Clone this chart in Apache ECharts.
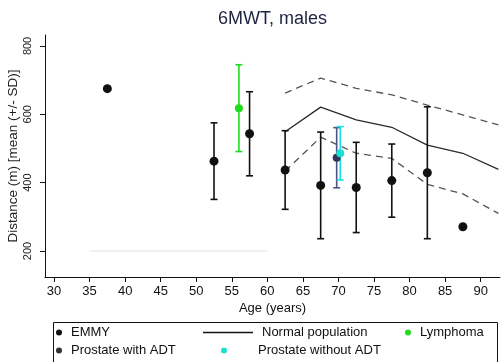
<!DOCTYPE html>
<html>
<head>
<meta charset="utf-8">
<script src="https://cdn.jsdelivr.net/npm/echarts@6/dist/echarts.min.js"></script>
<style>
  html, body { margin: 0; padding: 0; background: #fff; }
  #chart { width: 502px; height: 362px; }
</style>
</head>
<body>
<div id="chart"></div>
<script>
// EMMY cohort: mean 6MWT distance and SD by age group
const emmyAges = [37.5, 52.5, 57.5, 62.5, 67.5, 72.5, 77.5, 82.5, 87.5];
const emmyMean = [675, 463, 543, 437, 392, 386, 406, 429, 271];
const emmySD   = [null, 112, 123, 115, 156, 132, 107, 193, null];

// Other patient groups
const lymphomaAge = [56];
const lymphomaMean = [618];
const lymphomaSD = [127];

const adtAge = [69.75];
const adtMean = [473];
const adtSD = [88];

const noAdtAge = [70.25];
const noAdtMean = [486];
const noAdtSD = [78];

// Normal population reference (mean and +/- SD band)
const normAges  = [62.5, 67.5, 72.5, 77.5, 82.5, 87.5, 92.5];
const normMean  = [549, 621, 584, 562, 510, 486, 439];
const normUpper = [662, 706, 676, 657, 627, 598, 569];
const normLower = [434, 533, 486, 471, 395, 367, 310];

// Faint horizontal guide
const guideAges = [35, 60];
const guideValue = [200, 200];

// Axis ticks
const xTicks = [30, 35, 40, 45, 50, 55, 60, 65, 70, 75, 80, 85, 90];
const yTicks = [200, 400, 600, 800];

const FONT = '"Liberation Sans", Arial, sans-serif';

const pairs = (xs, ys) => xs.map((x, i) => [x, ys[i]]);
const bars = (xs, m, sd) => xs
  .map((x, i) => sd[i] == null ? null : [x, m[i] - sd[i], m[i] + sd[i]])
  .filter(d => d);

function errorBar(color) {
  return function (params, api) {
    const x = api.value(0);
    const lo = api.coord([x, api.value(1)]);
    const hi = api.coord([x, api.value(2)]);
    const hw = 3.5;
    const st = { stroke: color, lineWidth: 1.6 };
    return {
      type: 'group',
      children: [
        { type: 'line', shape: { x1: lo[0], y1: lo[1], x2: hi[0], y2: hi[1] }, style: st },
        { type: 'line', shape: { x1: hi[0] - hw, y1: hi[1], x2: hi[0] + hw, y2: hi[1] }, style: st },
        { type: 'line', shape: { x1: lo[0] - hw, y1: lo[1], x2: lo[0] + hw, y2: lo[1] }, style: st }
      ]
    };
  };
}

const C_EMMY = '#111111';
const C_ADT = '#30355a';
const C_ADT_BAR = '#4a5488';
const C_NOADT = '#1ee0d2';
const C_NOADT_BAR = '#14e3ea';
const C_LYMPH = '#1fdc1f';

const legendText = { fontFamily: FONT, fontSize: 13, color: '#111' };
function legendItem(name, left, top, w, h, icon, color, textPad) {
  return {
    data: [{ name: name, icon: icon, itemStyle: { color: color, borderWidth: 0 } }],
    left: left, top: top,
    itemWidth: w, itemHeight: h,
    padding: 0,
    textStyle: Object.assign({}, legendText, textPad ? { padding: [0, 0, 0, textPad] } : {}),
    selectedMode: false
  };
}

const chart = echarts.init(document.getElementById('chart'), null, { renderer: 'canvas' });

chart.setOption({
  animation: false,
  backgroundColor: '#ffffff',
  title: {
    text: '6MWT, males',
    left: 218, top: 10,
    padding: 0,
    textStyle: { fontFamily: FONT, fontSize: 18, fontWeight: 'normal', color: '#1f2240' }
  },
  grid: {
    left: 45, right: 2, top: 35, bottom: 85,
    containLabel: false,
    outerBoundsMode: 'none'
  },
  xAxis: {
    type: 'value',
    min: 28.73, max: 92.72,
    name: 'Age (years)',
    nameLocation: 'middle',
    nameGap: 25,
    nameMoveOverlap: false,
    nameTextStyle: { fontFamily: FONT, fontSize: 13, color: '#111' },
    axisLine: { show: true, lineStyle: { color: '#111', width: 1 } },
    axisTick: { show: true, length: 5, lineStyle: { color: '#111' }, customValues: xTicks },
    axisLabel: { fontFamily: FONT, fontSize: 13, color: '#111', margin: 8, customValues: xTicks },
    splitLine: { show: false }
  },
  yAxis: {
    type: 'value',
    min: 124, max: 832,
    name: 'Distance (m) [mean (+/- SD)]',
    nameLocation: 'middle',
    nameRotate: 90,
    nameGap: 25,
    nameMoveOverlap: false,
    nameTextStyle: { fontFamily: FONT, fontSize: 13.5, color: '#222' },
    axisLine: { show: true, lineStyle: { color: '#111', width: 1 } },
    axisTick: { show: true, length: 5, lineStyle: { color: '#111' }, customValues: yTicks },
    axisLabel: { fontFamily: FONT, fontSize: 11, color: '#222', rotate: 90, margin: 12, customValues: yTicks },
    splitLine: { show: false }
  },
  legend: [
    legendItem('EMMY', 56, 326, 14, 6, 'circle', C_EMMY),
    legendItem('Prostate with ADT', 56, 344, 14, 6, 'circle', '#333333'),
    legendItem('Normal population', 203, 326, 50, 1.5, 'rect', '#111111', 4),
    legendItem('Prostate without ADT', 221, 344, 14, 6, 'circle', C_NOADT, 22),
    legendItem('Lymphoma', 405, 326, 14, 6, 'circle', C_LYMPH)
  ],
  graphic: [{
    type: 'rect',
    shape: { x: 53.5, y: 322.5, width: 444, height: 60 },
    style: { fill: 'none', stroke: '#111', lineWidth: 1 },
    silent: true, z: -1
  }],
  series: [
    {
      name: 'guide', type: 'line', data: pairs(guideAges, guideValue),
      symbol: 'none', lineStyle: { color: '#e2e2e2', width: 1 }, z: 1, silent: true
    },
    {
      name: 'Normal population', type: 'line', data: pairs(normAges, normMean),
      symbol: 'none', lineStyle: { color: '#2a2a2a', width: 1.3 }, itemStyle: { color: '#111' }, z: 2
    },
    {
      name: 'Normal +SD', type: 'line', data: pairs(normAges, normUpper),
      symbol: 'none', lineStyle: { color: '#555', width: 1.3, type: [7, 5] }, z: 2
    },
    {
      name: 'Normal -SD', type: 'line', data: pairs(normAges, normLower),
      symbol: 'none', lineStyle: { color: '#555', width: 1.3, type: [7, 5] }, z: 2
    },
    {
      name: 'EMMY SD', type: 'custom', renderItem: errorBar(C_EMMY),
      data: bars(emmyAges, emmyMean, emmySD), encode: { x: 0, y: [1, 2] }, z: 3
    },
    {
      name: 'Lymphoma SD', type: 'custom', renderItem: errorBar(C_LYMPH),
      data: bars(lymphomaAge, lymphomaMean, lymphomaSD), encode: { x: 0, y: [1, 2] }, z: 3
    },
    {
      name: 'Prostate with ADT SD', type: 'custom', renderItem: errorBar(C_ADT_BAR),
      data: bars(adtAge, adtMean, adtSD), encode: { x: 0, y: [1, 2] }, z: 3
    },
    {
      name: 'Prostate without ADT SD', type: 'custom', renderItem: errorBar(C_NOADT_BAR),
      data: bars(noAdtAge, noAdtMean, noAdtSD), encode: { x: 0, y: [1, 2] }, z: 3
    },
    {
      name: 'EMMY', type: 'scatter', data: pairs(emmyAges, emmyMean),
      symbol: 'circle', symbolSize: 9, itemStyle: { color: C_EMMY, opacity: 1 }, z: 4
    },
    {
      name: 'Lymphoma', type: 'scatter', data: pairs(lymphomaAge, lymphomaMean),
      symbol: 'circle', symbolSize: 8, itemStyle: { color: C_LYMPH, opacity: 1 }, z: 4
    },
    {
      name: 'Prostate with ADT', type: 'scatter', data: pairs(adtAge, adtMean),
      symbol: 'circle', symbolSize: 8, itemStyle: { color: C_ADT, opacity: 1 }, z: 4
    },
    {
      name: 'Prostate without ADT', type: 'scatter', data: pairs(noAdtAge, noAdtMean),
      symbol: 'circle', symbolSize: 8, itemStyle: { color: C_NOADT, opacity: 1 }, z: 4
    }
  ]
});
</script>
</body>
</html>
